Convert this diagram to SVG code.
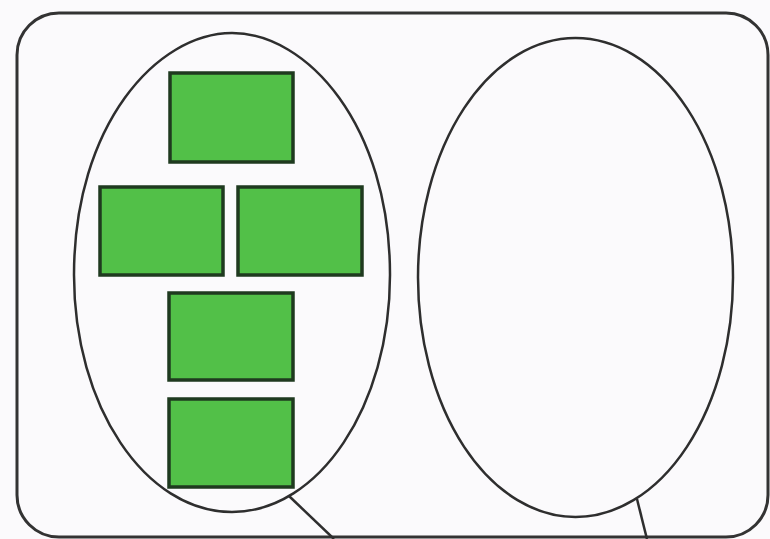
<svg xmlns="http://www.w3.org/2000/svg" width="770" height="539" viewBox="0 0 770 539">
<style>
.frame{fill:none;stroke:#333;stroke-width:3}
.oval{fill:none;stroke:#2e2e2e;stroke-width:2.5}
.box{fill:#52c048;stroke:#1f3a1f;stroke-width:3.5}
.conn{fill:none;stroke:#2e2e2e;stroke-width:2.5}
</style>
<rect x="0" y="0" width="770" height="539" fill="#fbfafc"/>
<rect class="frame" x="17" y="13" width="751" height="524" rx="42" ry="42"/>
<g id="set-left"><path class="oval" d="M232,33 C307,33 390,125 390,275 C390,406 319,512 232,512 C145,512 74,406 74,275 C74,125 157,33 232,33 Z"/></g>
<g id="set-right"><ellipse class="oval" cx="575.5" cy="277.5" rx="157.5" ry="239.5"/></g>
<g id="box1"><rect class="box" x="170" y="73" width="123" height="89"/></g>
<g id="box2"><rect class="box" x="100" y="187" width="123" height="88"/></g>
<g id="box3"><rect class="box" x="238" y="187" width="124" height="88"/></g>
<g id="box4"><rect class="box" x="169" y="293" width="124" height="87"/></g>
<g id="box5"><rect class="box" x="169" y="399" width="124" height="88"/></g>
<g id="connectors">
<line class="conn" x1="289" y1="496" x2="334" y2="539"/>
<line class="conn" x1="637" y1="499" x2="647" y2="539"/>
</g>
</svg>
